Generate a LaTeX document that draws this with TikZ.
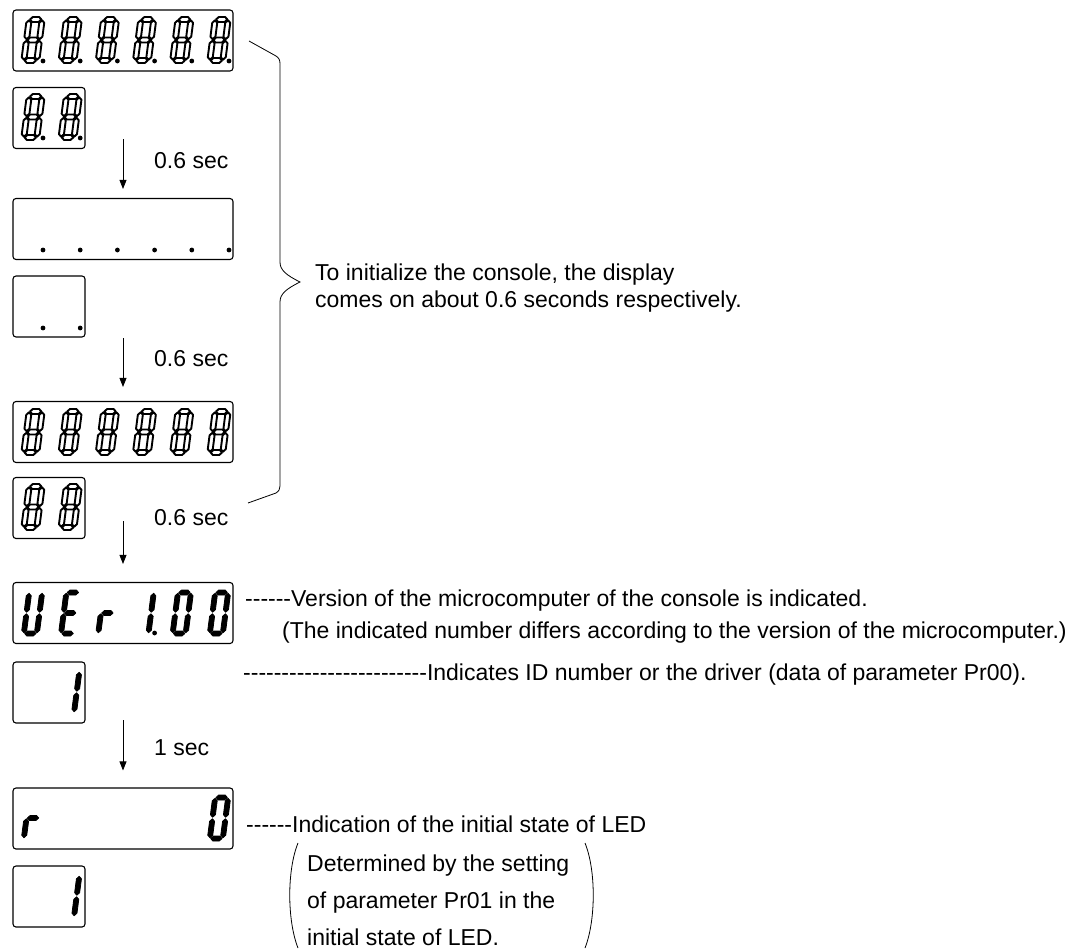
\documentclass[tikz,border=0pt]{standalone}
\usepackage{fontspec}
\setmainfont{Liberation Sans}[Ligatures=TeXOff]
\usetikzlibrary{arrows.meta}

% the seven segments of one character, top left corner at (0,0), y down
\newcommand{\sgA}[1]{\path[#1] (3.3,2.5)--(5.8,0)--(12.2,0)--(14.7,2.5)--(12.2,5)--(5.8,5)--cycle;}
\newcommand{\sgB}[1]{\path[#1] (15.5,3.3)--(18,5.8)--(18,19.7)--(15.5,22.2)--(13,19.7)--(13,5.8)--cycle;}
\newcommand{\sgC}[1]{\path[#1] (15.5,23.8)--(18,26.3)--(18,40.2)--(15.5,42.7)--(13,40.2)--(13,26.3)--cycle;}
\newcommand{\sgD}[1]{\path[#1] (3.3,43.5)--(5.8,41)--(12.2,41)--(14.7,43.5)--(12.2,46)--(5.8,46)--cycle;}
\newcommand{\sgE}[1]{\path[#1] (2.5,23.8)--(5,26.3)--(5,40.2)--(2.5,42.7)--(0,40.2)--(0,26.3)--cycle;}
\newcommand{\sgF}[1]{\path[#1] (2.5,3.3)--(5,5.8)--(5,19.7)--(2.5,22.2)--(0,19.7)--(0,5.8)--cycle;}
\newcommand{\sgG}[1]{\path[#1] (3.3,23)--(5.8,20.5)--(12.2,20.5)--(14.7,23)--(12.2,25.5)--(5.8,25.5)--cycle;}

% style, x, y, segments
\newcommand{\lcdchar}[4][segon]{%
  \begin{scope}[shift={(#2,#3)}, xslant=0.13]
    \foreach \s in {#4} {\csname sg\s\endcsname{#1}}
  \end{scope}}
\newcommand{\lcddot}[2]{\fill (#1,#2) circle (2.4pt);}

\begin{document}
\begin{tikzpicture}[x=1pt, y=-1pt,
  lcd/.style={draw, rounded corners=3pt, line width=1.1pt, minimum height=61pt, inner sep=0pt},
  wide/.style={lcd, minimum width=220pt},
  narrow/.style={lcd, minimum width=72pt},
  segoff/.style={draw, fill=white, line width=1.9pt, line join=round},
  segon/.style={fill=black, draw, line width=0.8pt, line join=round},
  txt/.style={font=\fontsize{23pt}{27pt}\selectfont, inner sep=0pt, anchor=base west},
  arr/.style={line width=0.8pt, -{Triangle[length=9pt,width=7pt]}}]
\useasboundingbox (0,0) rectangle (1079,948);

% displays
\node[wide]   (d1)  at (123,40.5)  {};
\node[narrow] (d2)  at (49,118)    {};
\node[wide]   (d3)  at (123,229)   {};
\node[narrow] (d4)  at (49,306.5)  {};
\node[wide]   (d5)  at (123,432)   {};
\node[narrow] (d6)  at (49,508)    {};
\node[wide]   (d7)  at (123,613)   {};
\node[narrow] (d8)  at (49,692.5)  {};
\node[wide]   (d9)  at (123,818.5) {};
\node[narrow] (d10) at (49,896.5)  {};

% all segments on
\foreach \k in {0,...,5} {
  \lcdchar[segoff]{27+37.2*\k}{17}{A,B,C,D,E,F,G}
  \lcddot{43+37.2*\k}{61}
  \lcddot{43+37.2*\k}{250}
  \lcdchar[segoff]{27+37.2*\k}{409}{A,B,C,D,E,F,G}
}
\foreach \k in {0,1} {
  \lcdchar[segoff]{27+37.2*\k}{94}{A,B,C,D,E,F,G}
  \lcddot{43+37.2*\k}{138}
  \lcddot{43+37.2*\k}{328}
  \lcdchar[segoff]{27+37.2*\k}{484}{A,B,C,D,E,F,G}
}

% version
\lcdchar{27}{590}{B,C,D,E,F}
\lcdchar{64.2}{590}{A,D,E,F,G}
\lcdchar{101.4}{590}{E,G}
\lcdchar{138.6}{590}{B,C}
\lcddot{154.6}{633}
\lcdchar{175.8}{590}{A,B,C,D,E,F}
\lcdchar{213}{590}{A,B,C,D,E,F}
\lcdchar{64.2}{669}{B,C}

% LED state
\lcdchar{27}{795}{E,G}
\lcdchar{213}{795}{A,B,C,D,E,F}
\lcdchar{64.2}{873}{B,C}

% timing arrows
\coordinate (t1) at (123,139);
\coordinate (t2) at (123,338);
\coordinate (t3) at (123,521);
\coordinate (t4) at (123,720);
\draw[arr, shorten >=9pt]  (t1) -- (t1 |- d3.north);
\draw[arr, shorten >=14pt] (t2) -- (t2 |- d5.north);
\draw[arr, shorten >=18pt] (t3) -- (t3 |- d7.north);
\draw[arr, shorten >=17pt] (t4) -- (t4 |- d9.north);
\node[txt] (s1) at (154,168) {0.6 sec};
\node[txt] (s2) at (154,366) {0.6 sec};
\node[txt] (s3) at (154,525) {0.6 sec};
\node[txt] (s4) at (154,755) {1 sec};

% brace
\draw[line width=0.8pt] (249,41) -- (276,56) .. controls (279,58) and (280,60) .. (280,64)
  -- (280,262) .. controls (280,270) and (286,275) .. (300,282)
  .. controls (286,289) and (280,294) .. (280,302) -- (280,486)
  .. controls (280,489) and (279,491) .. (276,493) -- (248,503);
\node[txt] (b1) at (315,280) {To initialize the console, the display};
\node[txt] (b2) at (315,307) {comes on about 0.6 seconds respectively.};

% notes
\node[txt] (n1) at (245,606) {------Version of the microcomputer of the console is indicated.};
\node[txt] (n2) at (282,638) {(The indicated number differs according to the version of the microcomputer.)};
\node[txt] (n3) at (243,680) {------------------------Indicates ID number or the driver (data of parameter Pr00).};
\node[txt] (n4) at (246,832) {------Indication of the initial state of LED};
\node[txt] (p1) at (307,871) {Determined by the setting};
\node[txt] (p2) at (307,908) {of parameter Pr01 in the};
\node[txt] (p3) at (307,945) {initial state of LED.};
\draw[line width=0.8pt] (298,843) .. controls (287,870) and (287,920) .. (298,948);
\draw[line width=0.8pt] (585,843) .. controls (596,870) and (596,920) .. (585,948);
\end{tikzpicture}
\end{document}
